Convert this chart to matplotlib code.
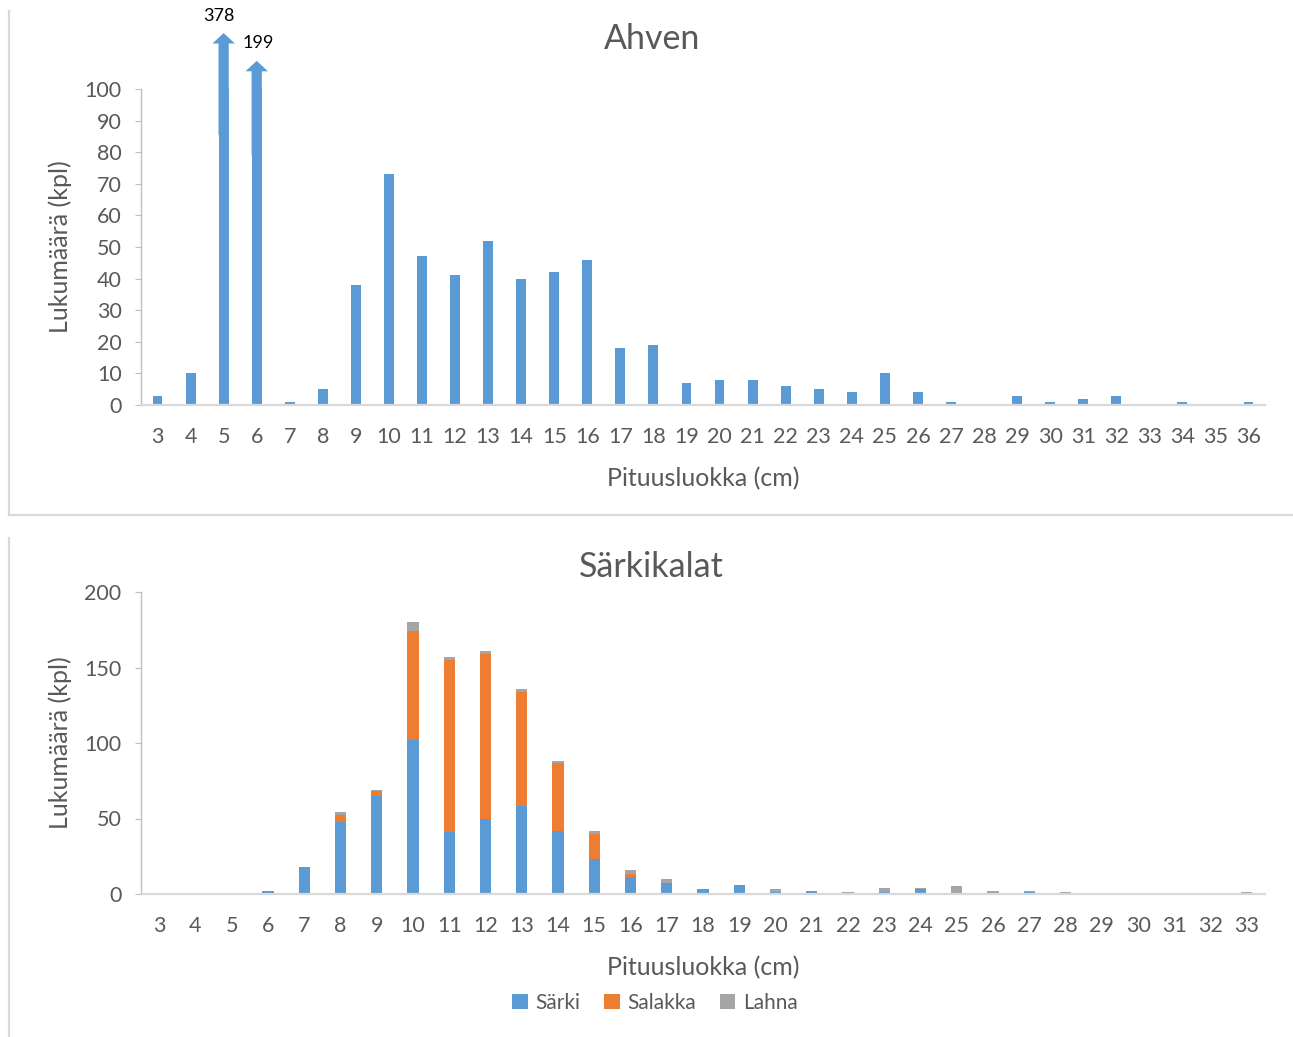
import numpy as np
import matplotlib.pyplot as plt
from matplotlib.lines import Line2D

plt.rcParams['font.family'] = ['Lato', 'DejaVu Sans']

# --- data -------------------------------------------------------------
ahven_cls = list(range(3, 37))
ahven = [3, 10, 378, 199, 1, 5, 38, 73, 47, 41, 52, 40, 42, 46, 18, 19, 7, 8,
         8, 6, 5, 4, 10, 4, 1, 0, 3, 1, 2, 3, 0, 1, 0, 1]

sarki_cls = list(range(3, 34))
sarki = [0, 0, 0, 2, 18, 48, 65, 102, 41, 50, 58, 42, 23, 11, 7, 3, 6, 1, 2, 0,
         1, 3, 0, 0, 1, 0, 0, 0, 0, 0, 0]
salakka = [0, 0, 0, 0, 0, 4, 3, 72, 114, 109, 76, 45, 17, 2, 0, 0, 0, 0, 0, 0,
           0, 0, 0, 0, 0, 0, 0, 0, 0, 0, 0]
lahna = [0, 0, 0, 0, 0, 2, 1, 6, 2, 2, 2, 1, 2, 3, 3, 0, 0, 2, 0, 1,
         3, 1, 5, 2, 1, 1, 0, 0, 0, 0, 1]

BLUE, ORANGE, GREY = "#5B9BD5", "#ED7D31", "#A5A5A5"
TXT = "#595959"
W, H = 1293, 1037


def fx(px):
    return px / W


def fy(py):
    return 1 - py / H


def style(ax, ymax, step):
    ax.set_ylim(0, ymax)
    ax.set_yticks(np.arange(0, ymax + 1, step))
    for s in ("top", "right"):
        ax.spines[s].set_visible(False)
    ax.spines["bottom"].set_color("#d9d9d9")
    ax.spines["bottom"].set_linewidth(1.6)
    ax.spines["left"].set_color("#bfbfbf")
    ax.spines["left"].set_linewidth(1.0)
    ax.tick_params(axis="x", length=0, pad=16, labelsize=15.5, labelcolor=TXT)
    ax.tick_params(axis="y", length=4, color="#bfbfbf", pad=10, labelsize=15.5,
                   labelcolor=TXT)
    ax.set_xlabel("Pituusluokka (cm)", fontsize=18, color=TXT, labelpad=14)
    ax.set_ylabel("Lukumäärä (kpl)", fontsize=18, color=TXT, labelpad=9)


fig = plt.figure(figsize=(W / 100, H / 100), dpi=100)
fig.patch.set_facecolor("white")

# --- top: Ahven -------------------------------------------------------
ax1 = fig.add_axes([fx(141), fy(405), fx(1265 - 141), (405 - 89) / H])
x1 = np.arange(len(ahven_cls))
ax1.bar(x1, ahven, width=0.3, color=BLUE)
ax1.set_xlim(-0.5, len(ahven_cls) - 0.5)
ax1.set_xticks(x1)
ax1.set_xticklabels([str(c) for c in ahven_cls])
style(ax1, 100, 10)

# arrows + labels for the bars that run off the scale
ymax1 = 100
over = [i for i, v in enumerate(ahven) if v > ymax1]
for k, i in enumerate(over):
    tip = ymax1 * (1.177 - 0.088 * k)
    start = ymax1 * (0.854 - 0.064 * k)
    hl = 3.3
    ax1.arrow(i, start, 0, tip - start - hl, width=0.31, head_width=0.68,
              head_length=hl, length_includes_head=False, color=BLUE,
              lw=0, clip_on=False)
    ax1.text(i - 0.15 + 0.21 * k, tip + 5.5, str(ahven[i]), ha="center",
             va="center", fontsize=13, color="black", clip_on=False)

fig.text(fx(652), fy(39), "Ahven", ha="center", va="center", fontsize=24.5,
         color=TXT)

# --- bottom: Särkikalat -----------------------------------------------
ax2 = fig.add_axes([fx(141), fy(894), fx(1265 - 141), (894 - 592) / H])
x2 = np.arange(len(sarki_cls))
s = np.array(sarki)
sa = np.array(salakka)
la = np.array(lahna)
ax2.bar(x2, s, width=0.31, color=BLUE, label="Särki")
ax2.bar(x2, sa, width=0.31, bottom=s, color=ORANGE, label="Salakka")
ax2.bar(x2, la, width=0.31, bottom=s + sa, color=GREY, label="Lahna")
ax2.set_xlim(-0.5, len(sarki_cls) - 0.5)
ax2.set_xticks(x2)
ax2.set_xticklabels([str(c) for c in sarki_cls])
style(ax2, 200, 50)

fig.text(fx(651), fy(567), "Särkikalat", ha="center", va="center", fontsize=24.5,
         color=TXT)
leg = fig.legend(*ax2.get_legend_handles_labels(), loc="center",
                 bbox_to_anchor=(fx(655), fy(1003)), ncol=3, frameon=False,
                 fontsize=15, handlelength=0.75, handleheight=0.75,
                 handletextpad=0.35, columnspacing=1.15)
for t in leg.get_texts():
    t.set_color(TXT)

# --- chart-area frames --------------------------------------------------
fc = "#d9d9d9"
fig.add_artist(Line2D([fx(9), fx(9)], [fy(11), fy(515)], color=fc, lw=1.6))
fig.add_artist(Line2D([fx(9), 1], [fy(515), fy(515)], color=fc, lw=1.6))
fig.add_artist(Line2D([fx(9), fx(9)], [fy(538), 0], color=fc, lw=1.6))

fig.savefig("out.png", dpi=100, facecolor="white")
